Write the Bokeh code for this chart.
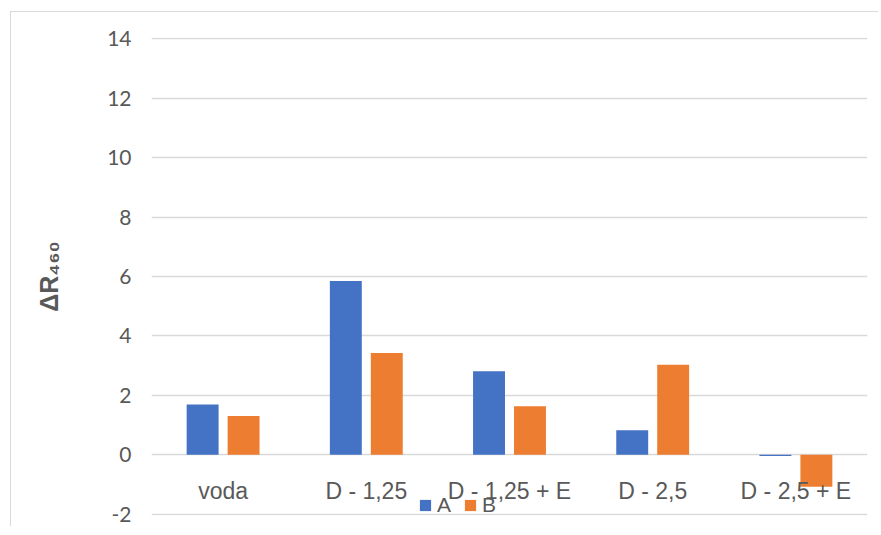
from bokeh.plotting import figure
from bokeh.models import (ColumnDataSource, FactorRange, Range1d, FixedTicker,
                          Legend, LegendItem, PrintfTickFormatter)
from bokeh.transform import dodge
from bokeh.core.properties import value
from bokeh.embed import file_html
from bokeh.resources import INLINE

categories = ["voda", "D - 1,25", "D - 1,25 + E", "D - 2,5", "D - 2,5 + E"]
series_a = [1.69, 5.85, 2.81, 0.82, -0.05]
series_b = [1.30, 3.42, 1.63, 3.03, -1.08]
y_ticks = [-2, 0, 2, 4, 6, 8, 10, 12, 14]
legend_labels = ["A", "B"]
y_title = "ΔR₄₆₀"

BLUE = "#4472C4"
ORANGE = "#ED7D31"
GREY_TXT = "#595959"
GRID = "#d9d9d9"

src = ColumnDataSource(dict(cat=categories, a=series_a, b=series_b,
                            zero=[0] * len(categories)))

p = figure(width=868, height=515, output_backend="svg", toolbar_location=None,
           x_range=FactorRange(*categories), y_range=Range1d(-2.05, 14.05),
           min_border_left=140, min_border_right=12, min_border_top=25,
           min_border_bottom=12)
p.margin = (11, 0, 0, 10)
p.styles = {"border-left": "1px solid #d9d9d9", "border-top": "1px solid #d9d9d9"}
p.outline_line_color = None
p.background_fill_color = "white"
p.border_fill_color = "white"

ra = p.vbar(x=dodge("cat", -0.143, range=p.x_range), top="a", bottom=0,
            width=0.223, source=src, fill_color=BLUE, line_color=None)
rb = p.vbar(x=dodge("cat", 0.143, range=p.x_range), top="b", bottom=0,
            width=0.223, source=src, fill_color=ORANGE, line_color=None)

p.text(x="cat", y="zero", text="cat", source=src, text_align="center",
       text_baseline="alphabetic", y_offset=36,
       text_font=value("Liberation Sans"), text_font_size="23px",
       text_color=GREY_TXT)

p.xaxis.visible = False
p.xgrid.visible = False
p.ygrid.grid_line_color = GRID
p.ygrid.grid_line_width = 1.3
p.yaxis.ticker = FixedTicker(ticks=y_ticks)
p.yaxis.formatter = PrintfTickFormatter(format="%d")
p.yaxis.axis_line_color = None
p.yaxis.major_tick_line_color = None
p.yaxis.minor_tick_line_color = None
p.yaxis.major_tick_out = 0
p.yaxis.major_label_standoff = 20
p.yaxis.major_label_text_font = "Lato"
p.yaxis.major_label_text_font_size = "21px"
p.yaxis.major_label_text_color = GREY_TXT
p.yaxis.axis_label = y_title
p.yaxis.axis_label_text_font = "Liberation Sans"
p.yaxis.axis_label_text_font_style = "bold"
p.yaxis.axis_label_text_font_size = "25px"
p.yaxis.axis_label_text_color = GREY_TXT
p.yaxis.axis_label_standoff = 41

legend = Legend(items=[LegendItem(label=legend_labels[0], renderers=[ra]),
                       LegendItem(label=legend_labels[1], renderers=[rb])],
                location=(267, -2), orientation="horizontal",
                glyph_width=14, glyph_height=14, label_standoff=5,
                label_width=20, label_height=14, spacing=6, padding=0,
                margin=0, border_line_color=None, background_fill_alpha=0,
                label_text_font="Liberation Sans", label_text_font_size="21px",
                label_text_color=GREY_TXT)
p.add_layout(legend)

open("out.html", "w").write(file_html(p, INLINE))
